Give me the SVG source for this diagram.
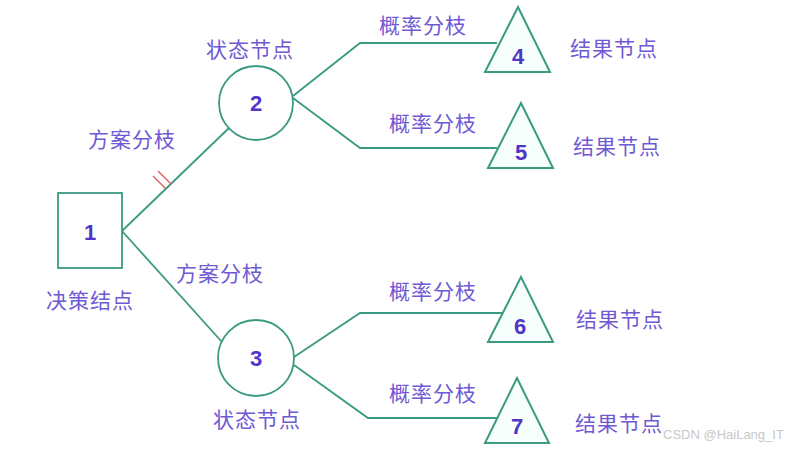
<svg xmlns="http://www.w3.org/2000/svg" width="805" height="450" viewBox="0 0 805 450">
<style>
.edge{fill:none;stroke:#3a9a82;stroke-width:1.8}
.shape{fill:#ffffff;stroke:#3a9a82;stroke-width:1.8}
.tri{fill:#f6fffb;stroke:#3a9a82;stroke-width:2}
.num{font-family:"Liberation Sans",Arial,sans-serif;font-weight:bold;font-size:22px;fill:#5035c8;text-anchor:middle;dominant-baseline:central}
.lbl{font-family:"Noto Sans CJK SC","Noto Sans",sans-serif;font-size:21px;fill:#6f5ad4;text-anchor:middle;dominant-baseline:central;letter-spacing:1px}
.wm{font-family:"Liberation Sans",Arial,sans-serif;font-size:13px;fill:#c8c8c8}
</style>
<rect width="805" height="450" fill="#ffffff"/>
<g id="connectors">
<path class="edge" d="M122,231 L230,127"/>
<path class="edge" d="M122,231 L222,342"/>
<path class="edge" d="M293,96 L360,43 L497,43"/>
<path class="edge" d="M293,98 L360,148 L497,148"/>
<path class="edge" d="M294,357 L360,313 L502,313"/>
<path class="edge" d="M294,365 L368,418 L497,418"/>
<g stroke="#e06060" stroke-width="1.4">
<line x1="153" y1="176" x2="166" y2="189"/>
<line x1="158" y1="171" x2="171" y2="184"/>
</g>
</g>
<g id="n1"><rect class="shape" x="58" y="193" width="64" height="75"/><text class="num" x="90" y="232">1</text></g>
<g id="n2"><circle class="shape" cx="256" cy="103" r="37"/><text class="num" x="256" y="103">2</text></g>
<g id="n3"><circle class="shape" cx="256" cy="358" r="38"/><text class="num" x="256" y="358">3</text></g>
<g id="n4"><polygon class="tri" points="518,7 485,72 550,72"/><text class="num" x="518" y="56">4</text></g>
<g id="n5"><polygon class="tri" points="521,103 488,168 553,168"/><text class="num" x="521" y="152">5</text></g>
<g id="n6"><polygon class="tri" points="521,277 488,342 553,342"/><text class="num" x="520" y="326">6</text></g>
<g id="n7"><polygon class="tri" points="517,378 485,443 549,443"/><text class="num" x="517" y="426">7</text></g>
<g id="labels">
<text class="lbl" x="250" y="48">状态节点</text>
<text class="lbl" x="132" y="138">方案分枝</text>
<text class="lbl" x="220" y="272">方案分枝</text>
<text class="lbl" x="90" y="299">决策结点</text>
<text class="lbl" x="257" y="418">状态节点</text>
<text class="lbl" x="423" y="24">概率分枝</text>
<text class="lbl" x="433" y="122">概率分枝</text>
<text class="lbl" x="433" y="290">概率分枝</text>
<text class="lbl" x="433" y="392">概率分枝</text>
<text class="lbl" x="614" y="47">结果节点</text>
<text class="lbl" x="617" y="145">结果节点</text>
<text class="lbl" x="620" y="318">结果节点</text>
<text class="lbl" x="619" y="422">结果节点</text>
<text class="wm" x="663" y="439">CSDN @HaiLang_IT</text>
</g>
</svg>
